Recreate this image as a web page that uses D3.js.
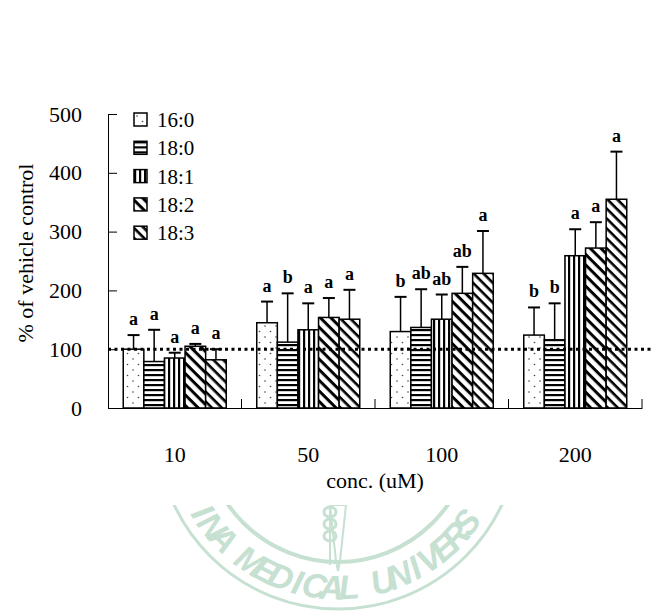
<!DOCTYPE html>
<html>
<head>
<meta charset="utf-8">
<script src="https://cdn.jsdelivr.net/npm/d3@7"></script>
<style>
  body { margin: 0; background: #fff; }
  svg { display: block; }
</style>
</head>
<body>
<div id="chart"></div>
<script>
// groups on the x axis (concentration, uM)
const groups = ['10', '50', '100', '200'];
const seriesNames = ['16:0', '18:0', '18:1', '18:2', '18:3'];

// means (% of vehicle control) per fatty acid, one value per concentration
const mean160 = [100, 145, 130, 124];
const mean180 = [79, 112, 137, 116];
const mean181 = [85, 133, 151, 259];
const mean182 = [105, 154, 195, 272];
const mean183 = [82, 151, 229, 355];

// upper error (SD)
const sd160 = [24, 36, 59, 47];
const sd180 = [54, 83, 65, 62];
const sd181 = [9, 45, 42, 45];
const sd182 = [4, 33, 45, 44];
const sd183 = [18, 50, 72, 81];

// significance letters
const sig160 = ['a', 'a', 'b', 'b'];
const sig180 = ['a', 'b', 'ab', 'b'];
const sig181 = ['a', 'a', 'ab', 'a'];
const sig182 = ['a', 'a', 'ab', 'a'];
const sig183 = ['a', 'a', 'a', 'a'];

const yTicks = [0, 100, 200, 300, 400, 500];
const refLine = 100;

const meansAll = [mean160, mean180, mean181, mean182, mean183];
const sdAll = [sd160, sd180, sd181, sd182, sd183];
const sigAll = [sig160, sig180, sig181, sig182, sig183];

const data = [];
groups.forEach((g, gi) => {
    seriesNames.forEach((s, si) => {
        data.push({ group: g, series: s, si: si, value: meansAll[si][gi], sd: sdAll[si][gi], sig: sigAll[si][gi] });
    });
});

const width = 653;
const height = 614;
const margin = { top: 114, right: 11, bottom: 206, left: 108 };
const innerWidth = width - margin.left - margin.right;
const innerHeight = height - margin.top - margin.bottom;

const serif = "'Liberation Serif', 'Times New Roman', serif";

const svg = d3.select('#chart')
    .append('svg')
    .attr('width', width)
    .attr('height', height)
    .style('background', '#fff');

// fill patterns
const defs = svg.append('defs');
const fills = ['p-dots', 'p-hline', 'p-vline', 'p-diag1', 'p-diag2'];

const pDots = defs.append('pattern').attr('id', 'p-dots')
    .attr('patternUnits', 'userSpaceOnUse').attr('width', 11).attr('height', 11);
pDots.append('rect').attr('width', 11).attr('height', 11).attr('fill', '#fff');
pDots.append('circle').attr('cx', 3).attr('cy', 3).attr('r', 0.8).attr('fill', '#444');
pDots.append('circle').attr('cx', 8.5).attr('cy', 8.5).attr('r', 0.8).attr('fill', '#444');

const pH = defs.append('pattern').attr('id', 'p-hline')
    .attr('patternUnits', 'userSpaceOnUse').attr('width', 5).attr('height', 5);
pH.append('rect').attr('width', 5).attr('height', 5).attr('fill', '#fff');
pH.append('rect').attr('width', 5).attr('height', 2.2).attr('fill', '#000');

const pV = defs.append('pattern').attr('id', 'p-vline')
    .attr('patternUnits', 'userSpaceOnUse').attr('width', 5).attr('height', 5);
pV.append('rect').attr('width', 5).attr('height', 5).attr('fill', '#fff');
pV.append('rect').attr('width', 2.2).attr('height', 5).attr('fill', '#000');

function diagPattern(id, period, thick) {
    const p = defs.append('pattern').attr('id', id)
        .attr('patternUnits', 'userSpaceOnUse')
        .attr('width', period).attr('height', period)
        .attr('patternTransform', 'rotate(45)');
    p.append('rect').attr('width', period).attr('height', period).attr('fill', '#fff');
    p.append('rect').attr('width', period).attr('height', thick).attr('fill', '#000');
}
diagPattern('p-diag1', 7.5, 3);
diagPattern('p-diag2', 7, 2.6);

// watermark (faint seal, its top hidden behind the chart)
const wmTop = 505;
defs.append('clipPath').attr('id', 'wm-clip')
    .append('rect').attr('x', 0).attr('y', wmTop).attr('width', width).attr('height', height - wmTop);
const wmG = svg.append('g').attr('class', 'watermark').attr('clip-path', 'url(#wm-clip)');
const wmColor = '#c6e0d1';
const cx = 338, cy = 428;
wmG.append('circle').attr('cx', cx).attr('cy', cy).attr('r', 181)
    .attr('fill', 'none').attr('stroke', wmColor).attr('stroke-width', 3);
wmG.append('circle').attr('cx', cx).attr('cy', cy).attr('r', 134)
    .attr('fill', 'none').attr('stroke', wmColor).attr('stroke-width', 4);
const sealText = 'CHINA MEDICAL UNIVERSITY';
sealText.split('').forEach((ch, i) => {
    const deg = 160.7 - 6.22 * i;
    const ang = deg * Math.PI / 180;
    const r = 159;
    const x = cx + r * Math.cos(ang);
    const y = cy + r * Math.sin(ang);
    if (ch === ' ' || y < wmTop + 4) return;
    wmG.append('text')
        .attr('transform', `translate(${x},${y}) rotate(${deg - 90})`)
        .attr('text-anchor', 'middle')
        .attr('dy', '0.36em')
        .style('font-family', "'Liberation Sans', 'DejaVu Sans', sans-serif")
        .style('font-weight', 'bold')
        .style('font-style', 'italic')
        .style('font-size', '34px')
        .attr('fill', wmColor)
        .text(ch);
});
// staff in the seal centre
wmG.append('path')
    .attr('d', `M${cx - 8},${wmTop} L${cx - 2},${wmTop + 56} L${cx},${wmTop + 66} L${cx + 2},${wmTop + 56} L${cx + 8},${wmTop} Z`)
    .attr('fill', 'none').attr('stroke', wmColor).attr('stroke-width', 2);
[512, 524, 536].forEach(yy => {
    wmG.append('ellipse').attr('cx', cx - 8).attr('cy', yy).attr('rx', 6).attr('ry', 5)
        .attr('fill', 'none').attr('stroke', wmColor).attr('stroke-width', 3);
});
wmG.append('line').attr('x1', cx - 8).attr('x2', cx - 8).attr('y1', wmTop).attr('y2', 565)
    .attr('stroke', wmColor).attr('stroke-width', 2);

const chart = svg.append('g')
    .attr('transform', `translate(${margin.left}, ${margin.top})`);

// scales
const x0 = d3.scaleBand()
    .domain(groups)
    .range([0, innerWidth])
    .padding(0);

const x1 = d3.scaleBand()
    .domain(seriesNames)
    .range([0, x0.bandwidth()])
    .paddingInner(0)
    .paddingOuter(0.74);

const yScale = d3.scaleLinear()
    .domain([0, 500])
    .range([innerHeight, 0]);

// bars
chart.selectAll('.bar')
    .data(data)
    .enter()
    .append('rect')
    .attr('class', 'bar')
    .attr('x', d => x0(d.group) + x1(d.series))
    .attr('y', d => yScale(d.value))
    .attr('width', x1.bandwidth())
    .attr('height', d => innerHeight - yScale(d.value))
    .attr('fill', d => `url(#${fills[d.si]})`)
    .attr('stroke', '#000')
    .attr('stroke-width', 1.5);

// error bars
const capW = 12;
const err = chart.selectAll('.err')
    .data(data)
    .enter()
    .append('g')
    .attr('class', 'err')
    .attr('transform', d => `translate(${x0(d.group) + x1(d.series) + x1.bandwidth() / 2}, 0)`);

err.append('line')
    .attr('x1', 0).attr('x2', 0)
    .attr('y1', d => yScale(d.value))
    .attr('y2', d => yScale(d.value + d.sd))
    .attr('stroke', '#000')
    .attr('stroke-width', 1.5);

err.append('line')
    .attr('x1', -capW / 2).attr('x2', capW / 2)
    .attr('y1', d => yScale(d.value + d.sd))
    .attr('y2', d => yScale(d.value + d.sd))
    .attr('stroke', '#000')
    .attr('stroke-width', 2);

err.append('text')
    .attr('x', 0)
    .attr('y', d => yScale(d.value + d.sd) - 10)
    .attr('text-anchor', 'middle')
    .style('font-family', serif)
    .style('font-weight', 'bold')
    .style('font-size', '18px')
    .text(d => d.sig);

// y axis
const yAxis = d3.axisLeft(yScale)
    .tickValues(yTicks)
    .tickSizeInner(-9)
    .tickSizeOuter(0)
    .tickPadding(26);

const yG = chart.append('g')
    .attr('class', 'y-axis')
    .call(yAxis);
yG.selectAll('text')
    .style('font-family', serif)
    .style('font-size', '22px')
    .attr('fill', '#000');
yG.selectAll('line, path').attr('stroke', '#000');

// x axis
const xAxis = d3.axisBottom(x0)
    .tickSize(0)
    .tickPadding(38);

const xG = chart.append('g')
    .attr('class', 'x-axis')
    .attr('transform', `translate(0, ${innerHeight})`)
    .call(xAxis);
xG.selectAll('text')
    .style('font-family', serif)
    .style('font-size', '22px')
    .attr('fill', '#000');
xG.select('path').attr('stroke', '#000');

// group separator ticks
xG.selectAll('.sep')
    .data(groups)
    .enter()
    .append('line')
    .attr('class', 'sep')
    .attr('x1', d => x0(d) + x0.bandwidth())
    .attr('x2', d => x0(d) + x0.bandwidth())
    .attr('y1', 0)
    .attr('y2', -9)
    .attr('stroke', '#000');

// dotted reference line at 100%
chart.append('line')
    .attr('x1', 0)
    .attr('x2', width - margin.left)
    .attr('y1', yScale(refLine))
    .attr('y2', yScale(refLine))
    .attr('stroke', '#000')
    .attr('stroke-width', 3)
    .attr('stroke-dasharray', '3,3.5');

// axis labels
chart.append('text')
    .attr('x', innerWidth / 2)
    .attr('y', innerHeight + 80)
    .style('text-anchor', 'middle')
    .style('font-family', serif)
    .style('font-size', '22px')
    .text('conc. (uM)');

chart.append('text')
    .attr('transform', 'rotate(-90)')
    .attr('x', -(253 - margin.top))
    .attr('y', -margin.left + 33)
    .style('text-anchor', 'middle')
    .style('font-family', serif)
    .style('font-size', '22px')
    .text('% of vehicle control');

// legend
const legend = svg.append('g')
    .attr('transform', 'translate(134, 113)');

const item = legend.selectAll('.item')
    .data(seriesNames)
    .enter()
    .append('g')
    .attr('class', 'item')
    .attr('transform', (d, i) => `translate(0, ${i * 28.3})`);

item.append('rect')
    .attr('width', 13)
    .attr('height', 13)
    .attr('fill', (d, i) => `url(#${fills[i]})`)
    .attr('stroke', '#000')
    .attr('stroke-width', 1.5);

item.append('text')
    .attr('x', 23)
    .attr('y', 14)
    .style('font-family', serif)
    .style('font-size', '21px')
    .text(d => d);
</script>
</body>
</html>
